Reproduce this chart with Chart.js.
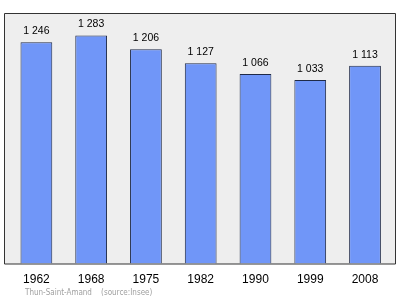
<!DOCTYPE html>
<html>
<head>
<meta charset="utf-8">
<script src="https://cdn.jsdelivr.net/npm/chart.js@4/dist/chart.umd.min.js"></script>
<style>
  html, body { margin: 0; padding: 0; background: #fff; }
  #wrap { width: 400px; height: 299px; position: relative; }
</style>
</head>
<body>
<div id="wrap"><canvas id="myChart"></canvas></div>
<script>
(() => {
    'use strict'

    const years = ['1962', '1968', '1975', '1982', '1990', '1999', '2008']
    const population = [1246, 1283, 1206, 1127, 1066, 1033, 1113]
    const yMin = 0
    const yMax = 1410
    const caption = 'Thun-Saint-Amand    (source:Insee)'

    const fmt = v => String(v).replace(/\B(?=(\d{3})+(?!\d))/g, ' ')

    // grey frame behind the bars
    const frame = {
        id: 'frame',
        beforeDraw(chart) {
            const { ctx, chartArea } = chart
            ctx.save()
            ctx.fillStyle = '#eeeeee'
            ctx.strokeStyle = '#333333'
            ctx.lineWidth = 1
            ctx.beginPath()
            ctx.rect(4.5, chartArea.top + 0.5, 391, chartArea.bottom - chartArea.top)
            ctx.fill()
            ctx.stroke()
            ctx.restore()
        }
    }

    // value labels above bars + caption
    const labels = {
        id: 'labels',
        afterDatasetsDraw(chart) {
            const { ctx } = chart
            const meta = chart.getDatasetMeta(0)
            ctx.save()
            ctx.font = '10.5px "Liberation Sans", Arial, sans-serif'
            ctx.fillStyle = '#000'
            ctx.textAlign = 'center'
            ctx.textBaseline = 'middle'
            meta.data.forEach((bar, i) => {
                ctx.fillText(fmt(population[i]), bar.x, bar.y - 11)
            })
            ctx.font = '8px "DejaVu Sans Condensed", "Liberation Sans Narrow", sans-serif'
            ctx.fillStyle = '#a0a0a0'
            ctx.textAlign = 'left'
            ctx.fillText(caption, 25, 293)
            ctx.restore()
        }
    }

    const ctx = document.getElementById('myChart')
    new Chart(ctx, {
        type: 'bar',
        data: {
            labels: years,
            datasets: [{
                data: population,
                backgroundColor: '#7096f8',
                borderColor: '#1f2a48',
                borderWidth: 1,
                borderSkipped: 'bottom',
                barPercentage: 0.58,
                categoryPercentage: 1
            }]
        },
        options: {
            responsive: true,
            maintainAspectRatio: false,
            animation: false,
            layout: {
                padding: { left: 9, right: 7.6, top: 13, bottom: 0 }
            },
            plugins: {
                legend: { display: false },
                tooltip: { enabled: false }
            },
            scales: {
                x: {
                    grid: { display: false, drawTicks: false },
                    border: { display: false },
                    ticks: {
                        color: '#000',
                        padding: 9,
                        font: { family: '"Liberation Sans", Arial, sans-serif', size: 12 }
                    },
                    afterFit(scale) { scale.height = 35.5 }
                },
                y: {
                    display: false,
                    min: yMin,
                    max: yMax
                }
            }
        },
        plugins: [frame, labels]
    })
})()
</script>
</body>
</html>
